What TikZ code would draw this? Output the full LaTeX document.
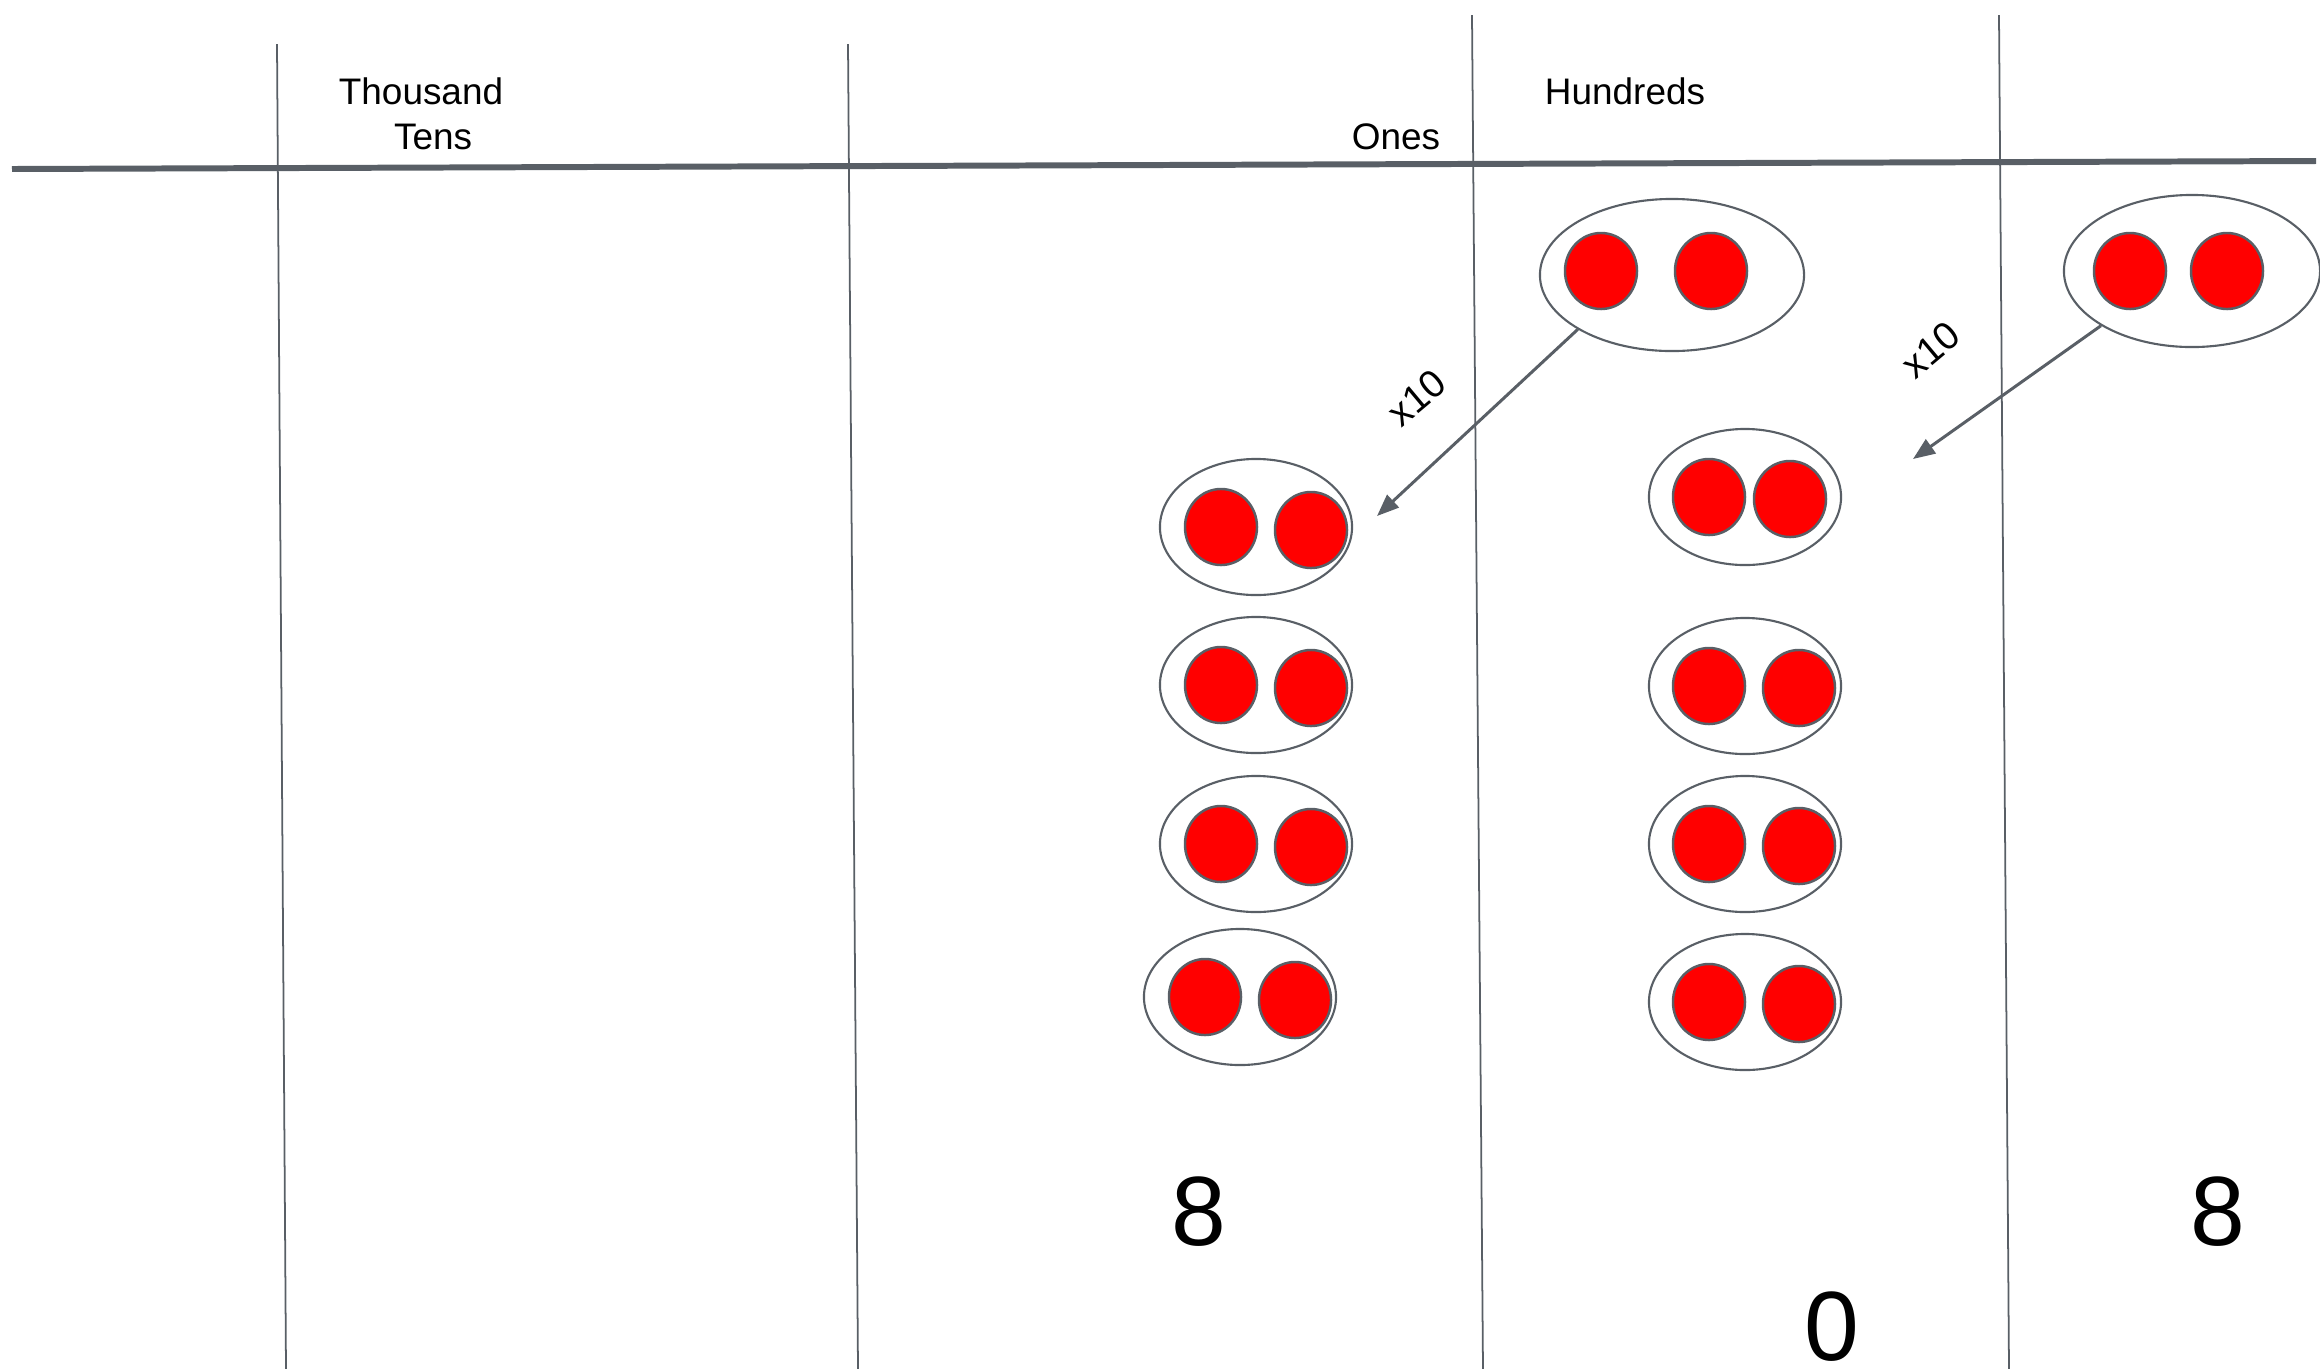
\documentclass[tikz,border=0pt]{standalone}
\usepackage{fontspec}
\setmainfont{Liberation Sans}
\usetikzlibrary{arrows.meta,shapes.geometric}
\definecolor{ChartGray}{HTML}{595F66}
\definecolor{CounterRed}{HTML}{FF0000}

\begin{document}
\begin{tikzpicture}[
  x=0.01cm,y=-0.01cm,
  pairring/.style={ellipse,draw=ChartGray,line width=0.6pt,minimum width=1.92cm,minimum height=1.36cm,inner sep=0pt},
  bigring/.style={pairring,minimum width=2.64cm,minimum height=1.52cm},
  counter/.style={ellipse,draw=ChartGray,fill=CounterRed,line width=0.7pt,minimum width=0.72cm,minimum height=0.76cm,inner sep=0pt},
  colline/.style={draw=ChartGray,line width=0.5pt},
  arrow/.style={-{Triangle[length=2.2mm,width=1.7mm]},draw=ChartGray,line width=0.85pt},
  heading/.style={anchor=base,font=\fontsize{10.5}{12}\selectfont},
  digit/.style={anchor=base,font=\fontsize{28}{32}\selectfont},
  factor/.style={rotate=40,font=\fontsize{11}{13}\selectfont}
]
\useasboundingbox (0,0) rectangle (2320,1369);
% place value chart
\draw[colline] (277,44) -- (286,1369);
\draw[colline] (848,44) -- (858,1369);
\draw[colline] (1472,15) -- (1483,1369);
\draw[colline] (1999,15) -- (2009,1369);
\draw[draw=ChartGray,line width=1.7pt] (12,169) -- (2316,161);
\node[heading] (thousand) at (421,104) {Thousand};
\node[heading] (tens) at (433,149) {Tens};
\node[heading] (hundreds) at (1625,104) {Hundreds};
\node[heading] (ones) at (1396,149) {Ones};
% groups of two
\node[bigring] (hund0) at (1672,275) {};
\node[counter] (hund0-a) at (1601,271) {};
\node[counter] (hund0-b) at (1711,271) {};
\node[bigring,minimum width=2.56cm] (ones0) at (2192,271) {};
\node[counter] (ones0-a) at (2130,271) {};
\node[counter] (ones0-b) at (2227,271) {};
\foreach \n/\x/\y in {1/1256/527,2/1256/685,3/1256/844,4/1240/997}{
  \node[pairring] (tens\n) at (\x,\y) {};
  \node[counter] (tens\n-a) at (\x-35,\y) {};
  \node[counter] (tens\n-b) at (\x+55,\y+3) {};
}
\foreach \n/\y/\r in {1/497/45,2/686/54,3/844/54,4/1002/54}{
  \node[pairring] (hund\n) at (1745,\y) {};
  \node[counter] (hund\n-a) at (1709,\y) {};
  \node[counter] (hund\n-b) at (1745+\r,\y+2) {};
}
% exchange arrows
\coordinate (tip1) at (1377,516);
\coordinate (tip2) at (1913,459);
\draw[arrow] (hund0.210) -- (tip1);
\draw[arrow] (ones0.211) -- (tip2);
\node[factor] (x10a) at (1417,398) {x10};
\node[factor] (x10b) at (1931,350) {x10};
% digits
\node[digit] (tensdigit) at (1199,1245) {8};
\node[digit] (hunddigit) at (1832,1360) {0};
\node[digit] (onesdigit) at (2218,1245) {8};
\end{tikzpicture}
\end{document}
